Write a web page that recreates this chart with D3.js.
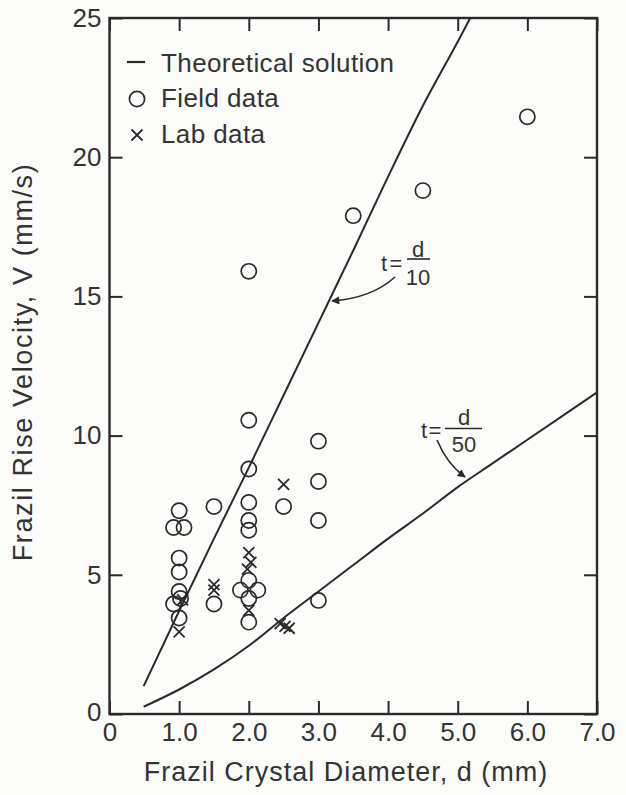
<!DOCTYPE html>
<html>
<head>
<meta charset="utf-8">
<script src="https://cdn.jsdelivr.net/npm/d3@7"></script>
<style>
  html, body { margin: 0; padding: 0; background: #fcfcfa; }
  svg { display: block; }
  text { font-family: "Liberation Sans", Arial, sans-serif; fill: #333; }
</style>
</head>
<body>
<script>
// ---------- data ----------
const xTicks = [0, 1, 2, 3, 4, 5, 6, 7];
const xTickLabels = ["0", "1.0", "2.0", "3.0", "4.0", "5.0", "6.0", "7.0"];
const yTicks = [0, 5, 10, 15, 20, 25];
const yTickLabels = ["0", "5", "10", "15", "20", "25"];

// theoretical solution, t = d/10
const theory10D = [0.49, 1.0, 1.5, 2.0, 2.5, 3.0, 3.5, 4.0, 4.5, 5.0, 5.18];
const theory10V = [1.0, 3.7, 6.3, 8.85, 11.45, 14.05, 16.65, 19.3, 21.85, 24.15, 25.0];
// theoretical solution, t = d/50
const theory50D = [0.49, 1.0, 1.5, 2.0, 2.5, 3.0, 3.5, 4.0, 4.5, 5.0, 5.5, 6.0, 6.5, 7.0];
const theory50V = [0.26, 0.88, 1.6, 2.45, 3.45, 4.4, 5.35, 6.3, 7.2, 8.15, 9.0, 9.85, 10.7, 11.55];

// field data (circles)
const fieldD = [1.0, 0.92, 1.07, 1.0, 1.0, 1.0, 1.02, 0.92, 1.0,
                1.5, 1.5,
                2.0, 2.0, 2.0, 2.0, 2.0, 2.0, 2.0, 1.88, 2.13, 2.0, 2.0,
                2.5,
                3.0, 3.0, 3.0, 3.0,
                3.5, 4.5, 6.0];
const fieldV = [7.3, 6.7, 6.7, 5.6, 5.1, 4.4, 4.15, 3.95, 3.45,
                7.45, 3.95,
                15.9, 10.55, 8.8, 7.6, 6.95, 6.6, 4.8, 4.45, 4.45, 4.15, 3.3,
                7.45,
                9.8, 8.35, 6.95, 4.08,
                17.9, 18.8, 21.45];

// lab data (crosses)
const labD = [1.0, 1.05, 1.5, 1.5, 2.0, 2.03, 1.98, 2.0, 2.5, 2.45, 2.52, 2.58];
const labV = [2.95, 4.1, 4.65, 4.45, 5.8, 5.45, 5.2, 3.72, 8.25, 3.25, 3.15, 3.08];

// ---------- chart ----------
const W = 626, H = 795;
const ink = "#2a2a2a";
const svg = d3.select("body").append("svg").attr("width", W).attr("height", H);
svg.append("rect").attr("width", W).attr("height", H).attr("fill", "#fcfcfa");

const x = d3.scaleLinear().domain([0, 7]).range([109.5, 597]);
const y = d3.scaleLinear().domain([0, 25]).range([714, 18]);

// axes (inward ticks)
const fmtX = d => xTickLabels[xTicks.indexOf(d)];
const fmtY = d => yTickLabels[yTicks.indexOf(d)];

const gB = svg.append("g").attr("transform", `translate(0,${y(0)})`)
  .call(d3.axisBottom(x).tickValues(xTicks).tickFormat(fmtX).tickSize(-13).tickPadding(9));
const gT = svg.append("g").attr("transform", `translate(0,${y(25)})`)
  .call(d3.axisTop(x).tickValues(xTicks).tickFormat("").tickSize(-13));
const gL = svg.append("g").attr("transform", `translate(${x(0)},0)`)
  .call(d3.axisLeft(y).tickValues(yTicks).tickFormat(fmtY).tickSize(-13).tickPadding(8));
const gR = svg.append("g").attr("transform", `translate(${x(7)},0)`)
  .call(d3.axisRight(y).tickValues(yTicks).tickFormat("").tickSize(-13));

[gB, gT, gL, gR].forEach(g => {
  g.select(".domain").remove();
  g.selectAll(".tick line").attr("stroke", ink).attr("stroke-width", 2);
  g.selectAll(".tick text").style("font-size", "26px").attr("fill", "#333")
    .style("font-family", '"Liberation Sans", Arial, sans-serif');
});
// y "0" sits slightly up-left, x "0" slightly lower
gL.selectAll(".tick text").filter(d => d === 0).attr("dy", "0.25em");

// frame
svg.append("rect")
  .attr("x", x(0)).attr("y", y(25))
  .attr("width", x(7) - x(0)).attr("height", y(0) - y(25))
  .attr("fill", "none").attr("stroke", ink).attr("stroke-width", 2.4);

// theoretical curves
const line = d3.line().x(d => x(d[0])).y(d => y(d[1])).curve(d3.curveMonotoneX);
svg.append("path").datum(theory10D.map((d, i) => [d, theory10V[i]]))
  .attr("d", line).attr("fill", "none").attr("stroke", ink).attr("stroke-width", 2);
svg.append("path").datum(theory50D.map((d, i) => [d, theory50V[i]]))
  .attr("d", line).attr("fill", "none").attr("stroke", ink).attr("stroke-width", 2);

// field data circles
svg.append("g").selectAll("circle").data(fieldD.map((d, i) => [d, fieldV[i]]))
  .join("circle")
  .attr("cx", d => x(d[0])).attr("cy", d => y(d[1])).attr("r", 7.6)
  .attr("fill", "none").attr("stroke", ink).attr("stroke-width", 1.7);

// lab data crosses
const cross = (g, cx, cy, s) => {
  g.append("path")
    .attr("d", `M${cx - s},${cy - s}L${cx + s},${cy + s}M${cx - s},${cy + s}L${cx + s},${cy - s}`)
    .attr("stroke", ink).attr("stroke-width", 1.8).attr("fill", "none");
};
const gLab = svg.append("g");
labD.forEach((d, i) => cross(gLab, x(d), y(labV[i]), 5.5));

// legend
svg.append("line").attr("x1", 127).attr("x2", 145).attr("y1", 62).attr("y2", 62)
  .attr("stroke", ink).attr("stroke-width", 2.2);
svg.append("circle").attr("cx", 137).attr("cy", 99).attr("r", 7.6)
  .attr("fill", "none").attr("stroke", ink).attr("stroke-width", 1.7);
cross(svg, 137, 135, 5.5);
const legendText = ["Theoretical solution", "Field data", "Lab data"];
const legendY = [71.5, 107, 143];
legendText.forEach((t, i) => {
  svg.append("text").attr("x", 161).attr("y", legendY[i]).text(t)
    .style("font-size", "26px").style("letter-spacing", "0.4px");
});

// annotations t = d/10
const ann = svg.append("g").style("font-size", "22px");
ann.append("text").attr("x", 384).attr("y", 271).attr("text-anchor", "middle").text("t");
ann.append("text").attr("x", 396).attr("y", 271).attr("text-anchor", "middle").text("=");
ann.append("text").attr("x", 418).attr("y", 256.5).attr("text-anchor", "middle").text("d");
ann.append("line").attr("x1", 407).attr("x2", 430).attr("y1", 259).attr("y2", 259)
  .attr("stroke", ink).attr("stroke-width", 1.6);
ann.append("text").attr("x", 418).attr("y", 285).attr("text-anchor", "middle").text("10");

// annotations t = d/50
ann.append("text").attr("x", 424).attr("y", 438).attr("text-anchor", "middle").text("t");
ann.append("text").attr("x", 435).attr("y", 438).attr("text-anchor", "middle").text("=");
ann.append("text").attr("x", 464).attr("y", 425).attr("text-anchor", "middle").text("d");
ann.append("line").attr("x1", 445).attr("x2", 482).attr("y1", 428.5).attr("y2", 428.5)
  .attr("stroke", ink).attr("stroke-width", 1.6);
ann.append("text").attr("x", 464).attr("y", 452).attr("text-anchor", "middle").text("50");

// arrows
const defs = svg.append("defs");
defs.append("marker").attr("id", "ah").attr("viewBox", "0 0 10 10")
  .attr("refX", 9).attr("refY", 5).attr("markerWidth", 11).attr("markerHeight", 8)
  .attr("markerUnits", "userSpaceOnUse").attr("orient", "auto")
  .append("path").attr("d", "M0,0L10,5L0,10Z").attr("fill", ink);
svg.append("path").attr("d", "M395,277 Q372,298 332,301")
  .attr("fill", "none").attr("stroke", ink).attr("stroke-width", 1.6).attr("marker-end", "url(#ah)");
svg.append("path").attr("d", "M437,440 Q447,464 465,477")
  .attr("fill", "none").attr("stroke", ink).attr("stroke-width", 1.6).attr("marker-end", "url(#ah)");

// axis titles
svg.append("text").attr("x", 346).attr("y", 781).attr("text-anchor", "middle")
  .style("font-size", "27px").style("letter-spacing", "1px")
  .text("Frazil Crystal Diameter, d (mm)");
svg.append("text").attr("transform", "translate(32,362) rotate(-90)").attr("text-anchor", "middle")
  .style("font-size", "27px").style("letter-spacing", "1.6px")
  .text("Frazil Rise Velocity, V (mm/s)");
</script>
</body>
</html>
